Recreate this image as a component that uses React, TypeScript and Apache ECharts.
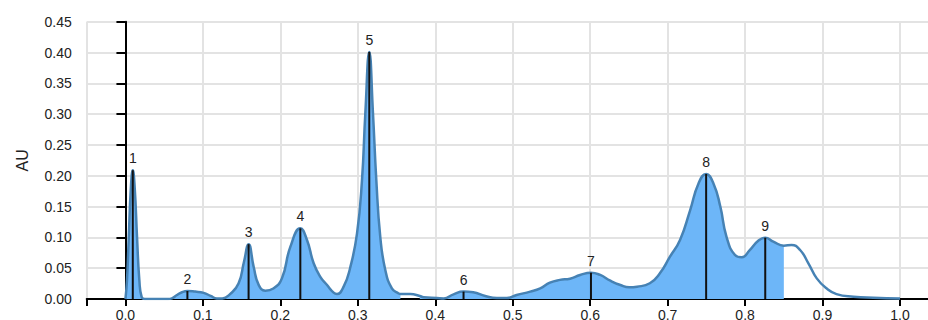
import React, { useEffect, useRef } from 'react';
import * as echarts from 'echarts';

// Density curve (x position, AU)
const curveX = [
  0.0, 0.002, 0.0043, 0.007, 0.0095, 0.012, 0.015, 0.018, 0.021, 0.025,
  0.04, 0.055, 0.06, 0.066, 0.073, 0.08, 0.09, 0.101, 0.11, 0.118,
  0.125, 0.135, 0.146, 0.153, 0.159, 0.1656, 0.172, 0.1806, 0.191, 0.202,
  0.213, 0.2258, 0.2344, 0.243, 0.2516, 0.2603, 0.2688, 0.273, 0.2817, 0.29,
  0.299, 0.3054, 0.3097, 0.3148, 0.3196, 0.3239, 0.329, 0.3355, 0.344, 0.3527,
  0.355, 0.3677, 0.38, 0.385, 0.402, 0.411, 0.4236, 0.4365, 0.449, 0.4645,
  0.4796, 0.4925, 0.505, 0.5226, 0.5355, 0.548, 0.561, 0.574, 0.587, 0.601,
  0.613, 0.626, 0.639, 0.6505, 0.6605, 0.677, 0.69, 0.703, 0.716, 0.729,
  0.74, 0.7497, 0.759, 0.768, 0.776, 0.787, 0.7957, 0.806, 0.817, 0.826,
  0.8365, 0.85, 0.86, 0.871, 0.8817, 0.8925, 0.905, 0.918, 0.94, 0.9655, 1.0,
];
const curveY = [
  0.0, 0.03, 0.1, 0.18, 0.209, 0.18, 0.1, 0.03, 0.003, 0.0,
  0.0, 0.0, 0.001, 0.006, 0.011, 0.013, 0.012, 0.01, 0.005, 0.001,
  0.001, 0.008, 0.025, 0.06, 0.089, 0.052, 0.023, 0.0135, 0.017, 0.0335,
  0.085, 0.1147, 0.0957, 0.058, 0.036, 0.0227, 0.0103, 0.008, 0.02, 0.05,
  0.1066, 0.193, 0.301, 0.401, 0.301, 0.193, 0.101, 0.047, 0.0173, 0.009,
  0.008, 0.008, 0.005, 0.0027, 0.0016, 0.001, 0.0076, 0.012, 0.011, 0.005,
  0.0016, 0.0016, 0.0065, 0.012, 0.0173, 0.0265, 0.031, 0.033, 0.039, 0.0427,
  0.039, 0.0297, 0.0227, 0.019, 0.02, 0.0255, 0.0417, 0.0686, 0.0957, 0.144,
  0.188, 0.2028, 0.188, 0.15, 0.101, 0.0714, 0.0677, 0.0795, 0.0946, 0.0995,
  0.093, 0.0865, 0.0876, 0.0795, 0.058, 0.0335, 0.0173, 0.008, 0.0037, 0.002, 0.001,
];

// Shaded x ranges
const fillStarts = [0.0, 0.38, 0.6605];
const fillEnds = [0.355, 0.6505, 0.85];

// Peaks
const peakLabels = ['1', '2', '3', '4', '5', '6', '7', '8', '9'];
const peakX = [0.0095, 0.08, 0.159, 0.2258, 0.3148, 0.4365, 0.601, 0.7497, 0.826];
const peakY = [0.209, 0.013, 0.089, 0.1147, 0.401, 0.012, 0.0427, 0.2028, 0.0995];

// Axis ticks
const xTickValues = [-0.05, 0, 0.1, 0.2, 0.3, 0.4, 0.5, 0.6, 0.7, 0.8, 0.9, 1.0];
const xLabelValues = [0, 0.1, 0.2, 0.3, 0.4, 0.5, 0.6, 0.7, 0.8, 0.9, 1.0];
const yMin = 0;
const yMax = 0.45;
const yStep = 0.05;

const FONT = '"Liberation Sans", Arial, sans-serif';

export default function App() {
  const ref = useRef<HTMLDivElement>(null);

  useEffect(() => {
    if (!ref.current) return;
    const chart = echarts.init(ref.current, null, { renderer: 'svg' });

    const lineData = curveX.map((x, i) => [x, curveY[i]]);
    const areaData = curveX.map((x, i) => {
      const inside = fillStarts.some((s, k) => x >= s - 1e-9 && x <= fillEnds[k] + 1e-9);
      return inside ? [x, curveY[i]] : [x, '-'];
    });
    const peakData = peakX.map((x, i) => ({ value: [x, peakY[i]], name: peakLabels[i] }));

    chart.setOption({
      animation: false,
      grid: {
        left: 86.7,
        right: 1.25,
        top: 21.7,
        bottom: 21,
        containLabel: false,
        outerBoundsMode: 'none',
      },
      xAxis: {
        type: 'value',
        min: -0.05,
        max: 1.05,
        axisLine: { show: true, onZero: false, lineStyle: { color: '#000', width: 2 } },
        axisTick: {
          show: true,
          length: 7,
          customValues: xTickValues,
          lineStyle: { color: '#000', width: 2 },
        },
        axisLabel: {
          customValues: xLabelValues,
          formatter: (v: number) => v.toFixed(1),
          color: '#222',
          fontSize: 14,
          fontFamily: FONT,
          margin: 9,
        },
        splitLine: { show: true, lineStyle: { color: '#e3e3e3', width: 2 } },
      },
      yAxis: {
        type: 'value',
        min: yMin,
        max: yMax,
        interval: yStep,
        name: 'AU',
        nameLocation: 'middle',
        nameRotate: 90,
        nameGap: 56,
        nameTextStyle: { color: '#222', fontSize: 16, fontFamily: FONT },
        axisLine: { show: true, lineStyle: { color: '#000', width: 2 } },
        axisTick: { show: true, length: 9, lineStyle: { color: '#000', width: 2 } },
        axisLabel: {
          formatter: (v: number) => v.toFixed(2),
          color: '#222',
          fontSize: 14,
          fontFamily: FONT,
          margin: 15,
        },
        splitLine: { show: true, lineStyle: { color: '#e3e3e3', width: 2 } },
      },
      series: [
        {
          type: 'line',
          data: areaData,
          smooth: 0.5,
          symbol: 'none',
          connectNulls: false,
          lineStyle: { width: 0, opacity: 0 },
          areaStyle: { color: '#6db6f8', opacity: 1 },
          z: 2,
        },
        {
          type: 'line',
          data: lineData,
          smooth: 0.5,
          symbol: 'none',
          lineStyle: { color: '#4682b4', width: 2.5 },
          z: 3,
        },
        {
          type: 'bar',
          data: peakData,
          barWidth: 2,
          itemStyle: { color: '#111' },
          label: {
            show: true,
            position: 'top',
            distance: 5,
            formatter: '{b}',
            color: '#222',
            fontSize: 14,
            fontFamily: FONT,
          },
          z: 4,
        },
      ],
    });

    return () => chart.dispose();
  }, []);

  return (
    <div style={{ position: 'fixed', left: 0, top: 0, width: 928, height: 320, overflow: 'hidden', background: '#fff' }}>
      <div ref={ref} style={{ width: 940, height: 320 }} />
    </div>
  );
}
